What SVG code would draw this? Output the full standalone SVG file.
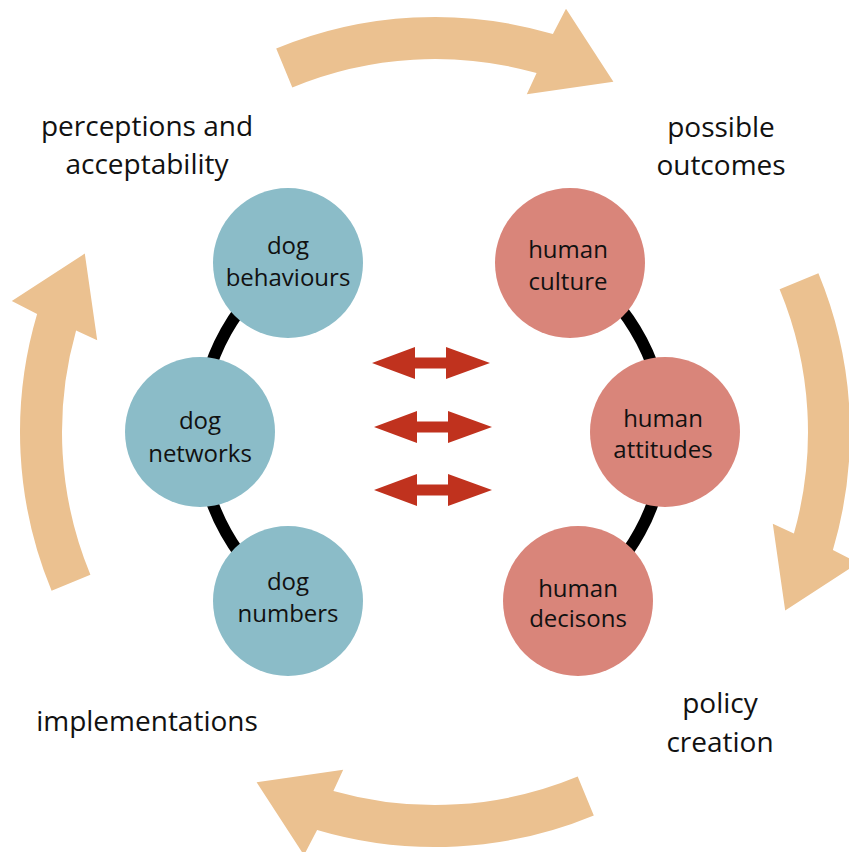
<svg xmlns="http://www.w3.org/2000/svg" width="849" height="852" viewBox="0 0 849 852">
<style>
.cyc{fill:#ebc190}
.dog{fill:#8bbcc8}
.hum{fill:#d9857a}
.link{fill:none;stroke:#000;stroke-width:12}
.dbl{fill:#c0321e}
text{font-family:"Open Sans","Noto Sans","Liberation Sans",sans-serif;fill:#111;text-anchor:middle}
.nt{font-size:24px}
.lt{font-size:28px}
</style>
<defs>
<path id="cycArrow" d="M 818.4 273.2 A 415 415 0 0 1 832.9 549.9 L 858.2 563 L 785.2 610.4 L 772.8 523.8 L 793.9 533.6 A 373 373 0 0 0 779.6 289.3 Z"/>
<path id="dblArrow" d="M 0 0 L 43 -16 L 43 -5.5 L 74 -5.5 L 74 -16 L 118 0 L 74 16 L 74 5.5 L 43 5.5 L 43 16 Z"/>
</defs>
<g id="cycle-arrows">
<use href="#cycArrow" class="cyc"/>
<use href="#cycArrow" class="cyc" transform="rotate(90 435 432)"/>
<use href="#cycArrow" class="cyc" transform="rotate(180 435 432)"/>
<use href="#cycArrow" class="cyc" transform="rotate(-90 435 432)"/>
</g>
<g id="connectors">
<path class="link" d="M 288 263 A 206 206 0 0 0 288 601"/>
<path class="link" d="M 570 263 A 203 203 0 0 1 578 601"/>
<use href="#dblArrow" class="dbl" transform="translate(372 363)"/>
<use href="#dblArrow" class="dbl" transform="translate(374 427)"/>
<use href="#dblArrow" class="dbl" transform="translate(374 490)"/>
</g>
<g id="dog-behaviours">
<circle class="dog" cx="288" cy="263" r="75"/>
<text class="nt" x="288" y="254">dog</text>
<text class="nt" x="288" y="286">behaviours</text>
</g>
<g id="dog-networks">
<circle class="dog" cx="200" cy="432" r="75"/>
<text class="nt" x="200" y="429">dog</text>
<text class="nt" x="200" y="462">networks</text>
</g>
<g id="dog-numbers">
<circle class="dog" cx="288" cy="601" r="75"/>
<text class="nt" x="288" y="590">dog</text>
<text class="nt" x="288" y="622">numbers</text>
</g>
<g id="human-culture">
<circle class="hum" cx="570" cy="263" r="75"/>
<text class="nt" x="568" y="258">human</text>
<text class="nt" x="568" y="290">culture</text>
</g>
<g id="human-attitudes">
<circle class="hum" cx="665" cy="432" r="75"/>
<text class="nt" x="663" y="427">human</text>
<text class="nt" x="663" y="458">attitudes</text>
</g>
<g id="human-decisons">
<circle class="hum" cx="578" cy="601" r="75"/>
<text class="nt" x="578" y="597">human</text>
<text class="nt" x="578" y="627">decisons</text>
</g>
<g id="label-perceptions">
<text class="lt" x="147" y="136">perceptions and</text>
<text class="lt" x="147" y="174">acceptability</text>
</g>
<g id="label-outcomes">
<text class="lt" x="721" y="137">possible</text>
<text class="lt" x="721" y="175">outcomes</text>
</g>
<g id="label-implementations">
<text class="lt" x="147" y="731">implementations</text>
</g>
<g id="label-policy">
<text class="lt" x="720" y="713">policy</text>
<text class="lt" x="720" y="752">creation</text>
</g>
</svg>
